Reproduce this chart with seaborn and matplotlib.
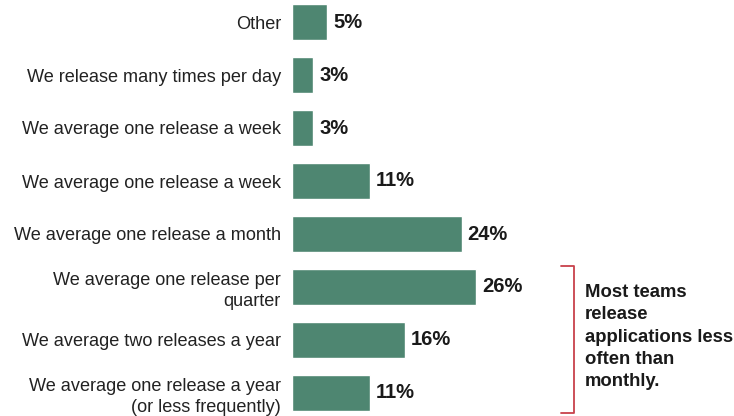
import matplotlib.pyplot as plt
import pandas as pd
import seaborn as sns

# release frequency survey
labels = [
    "Other",
    "We release many times per day",
    "We average one release a week",
    "We average one release a week",
    "We average one release a month",
    "We average one release per\nquarter",
    "We average two releases a year",
    "We average one release a year\n(or less frequently)",
]
shares = [5, 3, 3, 11, 24, 26, 16, 11]

BAR = "#4e8671"
BRACKET = "#c8414b"

sns.set_theme(style="white")
plt.rcParams["font.family"] = ["Liberation Sans", "DejaVu Sans"]

df = pd.DataFrame({"label": [f"{i}" for i in range(len(labels))], "share": shares})

fig = plt.figure(figsize=(7.34, 4.16), dpi=100)
ax = fig.add_axes([292 / 734, (416 - 414.2) / 416, 268 / 734, 413.4 / 416])

sns.barplot(data=df, x="share", y="label", color=BAR, width=0.67,
            saturation=1, ax=ax)

ax.set_xlim(0, 268 / 7.07)
ax.set_ylim(7.4, -0.4)
ax.set_xlabel("")
ax.set_ylabel("")
ax.set_xticks([])
ax.set_yticks(range(len(labels)))
ax.set_yticklabels(labels, fontsize=13.1, color="#222222")
ax.tick_params(axis="y", length=0, pad=8)
for lbl in ax.get_yticklabels():
    lbl.set_horizontalalignment("right")
    lbl.set_multialignment("right")
    lbl.set_linespacing(1.3)
sns.despine(ax=ax, left=True, bottom=True)

for i, v in enumerate(shares):
    ax.text(v + 0.85, i, f"{v}%", va="center", ha="left",
            fontsize=14.5, fontweight="bold", color="#1a1a1a")

# bracket around the less-than-monthly groups
bx = 574 / 734
y_top = 1 - 266 / 416
y_bot = 1 - 413 / 416
tick = 13 / 734
fig.add_artist(plt.Line2D([bx - tick, bx, bx, bx - tick],
                          [y_top, y_top, y_bot, y_bot],
                          color=BRACKET, lw=1.3))
fig.text(585 / 734, 1 - 337 / 416,
         "Most teams\nrelease\napplications less\noften than\nmonthly.",
         ha="left", va="center", fontsize=13.3, fontweight="bold",
         color="#1a1a1a", linespacing=1.42)

fig.savefig("out.png", dpi=100)
